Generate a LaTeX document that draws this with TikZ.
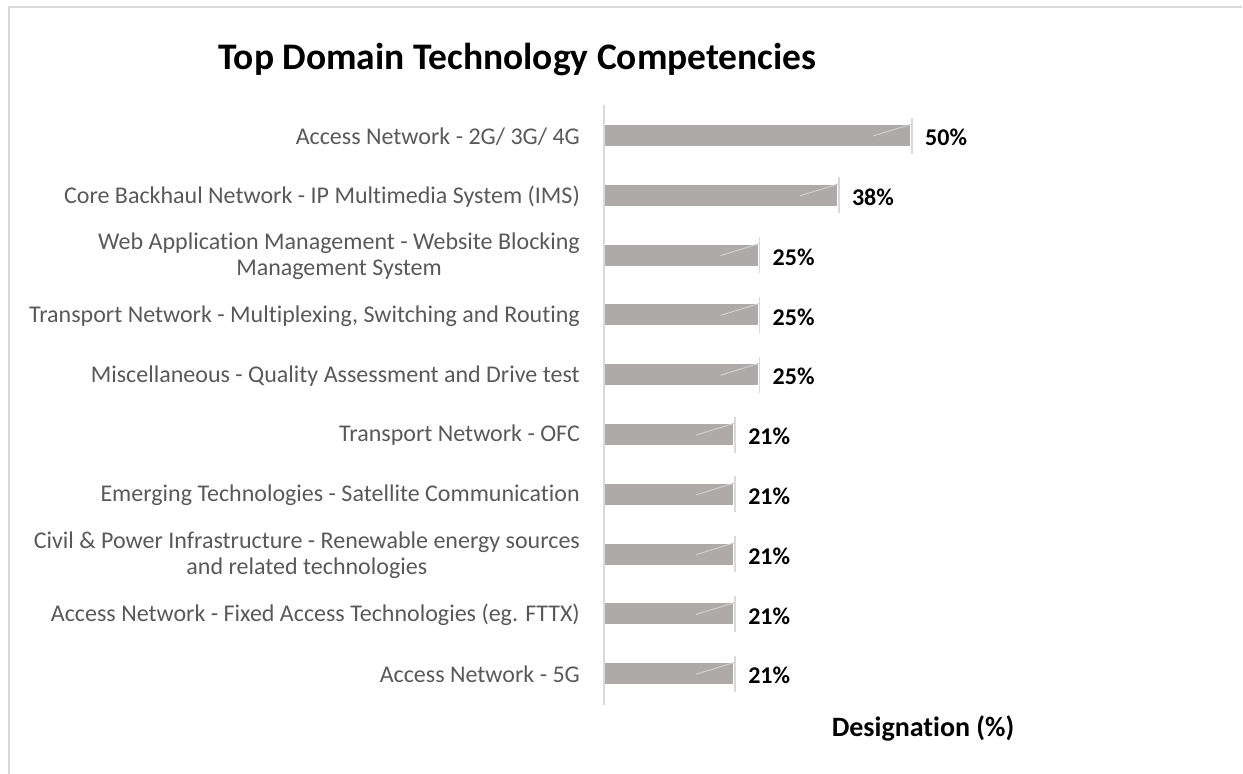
\documentclass[tikz,border=0pt]{standalone}
\usepackage{fontspec}
\setmainfont{Carlito}[Ligatures=NoCommon]
\definecolor{barfill}{HTML}{AEAAAA}
\definecolor{gridgray}{HTML}{D9D9D9}
\definecolor{labgray}{HTML}{595959}
\definecolor{diaggray}{HTML}{D0CECE}
\begin{document}
\begin{tikzpicture}[x=1pt,y=-1pt,
  frame/.style={draw=gridgray,line width=1.6pt},
  axisline/.style={draw=gridgray,line width=1.5pt},
  barbox/.style={fill=barfill,draw=none},
  tickline/.style={draw=gridgray,line width=1.5pt},
  diagline/.style={draw=diaggray,line width=1pt},
  catlabel/.style={anchor=east,align=center,text=labgray,font=\fontsize{24}{26}\selectfont,inner sep=0pt},
  pctlabel/.style={anchor=west,text=black,font=\bfseries\fontsize{24}{28}\selectfont,inner sep=0pt},
  titlelabel/.style={anchor=center,text=black,font=\bfseries\fontsize{37.5}{44}\selectfont,inner sep=0pt}]
\useasboundingbox (0,0) rectangle (1243,774);
\draw[frame] (9,774) -- (9,7) -- (1242,7);
\node[titlelabel] (title) at (517.5,60) {Top Domain Technology Competencies};
\coordinate (axtop) at (604,105);
\coordinate (axbot) at (604,705);
\draw[axisline] (axtop) -- (axbot);
\foreach \i/\p/\lab in {
  0/50/{Access Network - 2G/ 3G/ 4G},
  1/38/{Core Backhaul Network - IP Multimedia System (IMS)},
  2/25/{Web Application Management - Website Blocking\\Management System},
  3/25/{Transport Network - Multiplexing, Switching and Routing},
  4/25/{Miscellaneous - Quality Assessment and Drive test},
  5/21/{Transport Network - OFC},
  6/21/{Emerging Technologies - Satellite Communication},
  7/21/{Civil \& Power Infrastructure - Renewable energy sources\\and related technologies},
  8/21/{Access Network - Fixed Access Technologies (eg. FTTX)},
  9/21/{Access Network - 5G}}{
  \pgfmathsetmacro{\yc}{135.5+59.8*\i}
  \pgfmathsetmacro{\xe}{605+6.1*\p}
  \coordinate (s\i) at (605,\yc);
  \coordinate (e\i) at (\xe,\yc);
  \fill[barbox] (605,\yc-10.5) rectangle (\xe,\yc+10.5);
  \draw[tickline] (\xe+2,\yc-18) -- (\xe+2,\yc+18);
  \draw[diagline] (\xe-37,\yc+0.5) -- (\xe+2,\yc-11.5);
  \node[catlabel] (c\i) at (580,\yc+1) {\lab};
  \node[pctlabel] (p\i) at (\xe+15,\yc+2) {\p\%};
}
\node[anchor=center,text=black,font=\bfseries\fontsize{28}{34}\selectfont,inner sep=0pt] (xlab) at (923,728) {Designation (\%)};
\end{tikzpicture}
\end{document}
